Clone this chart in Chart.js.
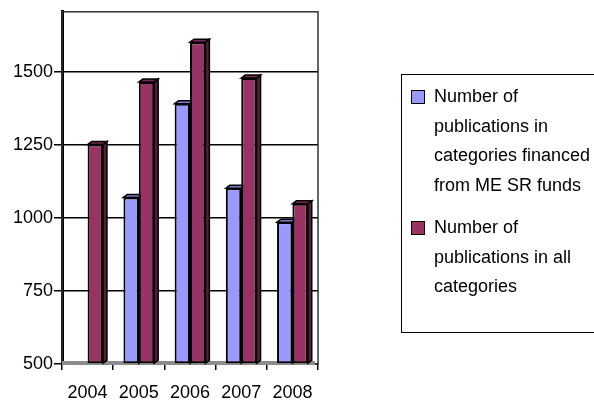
<!DOCTYPE html>
<html>
<head>
<meta charset="utf-8">
<script src="https://cdn.jsdelivr.net/npm/chart.js@4"></script>
<style>
  html, body { margin: 0; padding: 0; background: #fff; overflow: hidden; }
  #wrap { position: relative; width: 594px; height: 402px; }
  #legend {
    position: absolute; left: 401px; top: 74px; width: 200px; height: 259px;
    border: 1.5px solid #000; box-sizing: border-box;
    font-family: 'Liberation Sans', Arial, sans-serif; font-size: 18px; color: #000;
    padding-top: 7px;
  }
  .item { position: relative; padding-left: 32px; line-height: 29.5px; width: 160px; margin-bottom: 13px; }
  .box { position: absolute; left: 9px; top: 8px; width: 14px; height: 14px; border: 1.5px solid #000; box-sizing: border-box; }
</style>
</head>
<body>
<div id="wrap">
  <canvas id="c" width="594" height="402"></canvas>
  <div id="legend"></div>
</div>
<script>
// data
var years = ['2004', '2005', '2006', '2007', '2008'];
var fundedPubs = [null, 1071, 1392, 1102, 986];
var allPubs = [1252, 1466, 1603, 1480, 1049];
var yTicks = [500, 750, 1000, 1250, 1500];
var seriesNames = [
    'Number of publications in categories financed from ME SR funds',
    'Number of publications in all categories'
];

var colors = ['#9999ff', '#993366'];
var sideColors = ['#5c5c99', '#561c39'];
var topColors = ['#7a7acc', '#7a2952'];
var font = { family: "'Liberation Sans', Arial, sans-serif", size: 18 };

// fake 3d: wall border, floor, bar sides and tops drawn behind the bar fronts
var depth = {
    id: 'depth',
    beforeDatasetsDraw: function (chart) {
        var ctx = chart.ctx, a = chart.chartArea, dx = 4, dy = 3;
        ctx.save();
        ctx.strokeStyle = '#333';
        ctx.lineWidth = 1.5;
        ctx.strokeRect(a.left, a.top, a.right - a.left, a.bottom - a.top);
        ctx.fillStyle = '#8c8c8c';
        ctx.fillRect(a.left, a.bottom - 3, a.right - a.left - 3, 4);
        ctx.strokeStyle = '#000';
        ctx.lineWidth = 1.5;
        chart.data.datasets.forEach(function (ds, i) {
            var meta = chart.getDatasetMeta(i);
            meta.data.forEach(function (bar, j) {
                if (ds.data[j] == null) return;
                var p = bar.getProps(['x', 'y', 'base', 'width'], true);
                var l = p.x - p.width / 2, r = p.x + p.width / 2;
                ctx.beginPath();
                ctx.moveTo(r, p.y);
                ctx.lineTo(r + dx, p.y - dy);
                ctx.lineTo(r + dx, p.base - dy);
                ctx.lineTo(r, p.base);
                ctx.closePath();
                ctx.fillStyle = sideColors[i];
                ctx.fill();
                ctx.stroke();
                ctx.beginPath();
                ctx.moveTo(l, p.y);
                ctx.lineTo(l + dx, p.y - dy);
                ctx.lineTo(r + dx, p.y - dy);
                ctx.lineTo(r, p.y);
                ctx.closePath();
                ctx.fillStyle = topColors[i];
                ctx.fill();
                ctx.stroke();
            });
        });
        ctx.restore();
    }
};

var chart = new Chart(document.getElementById('c'), {
    type: 'bar',
    data: {
        labels: years,
        datasets: [
            { label: seriesNames[0], data: fundedPubs, backgroundColor: colors[0] },
            { label: seriesNames[1], data: allPubs, backgroundColor: colors[1] }
        ]
    },
    options: {
        responsive: false,
        animation: false,
        layout: { padding: { top: 10, right: 276, left: 0, bottom: 0 } },
        datasets: {
            bar: {
                base: 500,
                borderColor: '#000',
                borderWidth: 2,
                borderSkipped: false,
                barPercentage: 1,
                categoryPercentage: 0.6
            }
        },
        plugins: {
            legend: { display: false },
            tooltip: { enabled: false }
        },
        scales: {
            x: {
                grid: { drawOnChartArea: false, color: '#000', lineWidth: 1.5, tickLength: 6 },
                border: { display: true, color: '#000', width: 1.5 },
                ticks: { color: '#000', font: font, padding: 12, maxRotation: 0 },
                afterFit: function (s) { s.height = 38; }
            },
            y: {
                min: 500,
                max: 1707,
                grid: { color: '#000', lineWidth: 1.5, tickLength: 8 },
                border: { display: true, color: '#000', width: 3 },
                ticks: {
                    color: '#000', font: font, padding: 1,
                    callback: function (v) { return String(v); }
                },
                afterBuildTicks: function (s) {
                    s.ticks = yTicks.map(function (v) { return { value: v }; });
                },
                afterFit: function (s) { s.width = 62; }
            }
        }
    },
    plugins: [depth]
});

// legend as html so the long labels can wrap like the original
var legend = document.getElementById('legend');
chart.data.datasets.forEach(function (ds) {
    var item = document.createElement('div');
    item.className = 'item';
    var box = document.createElement('span');
    box.className = 'box';
    box.style.background = ds.backgroundColor;
    item.appendChild(box);
    item.appendChild(document.createTextNode(ds.label));
    legend.appendChild(item);
});
</script>
</body>
</html>
